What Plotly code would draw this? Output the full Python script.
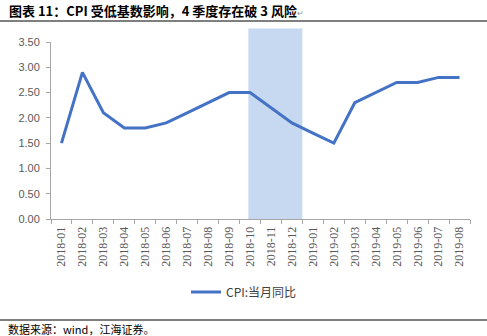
import plotly.graph_objects as go

months = ["2018-01", "2018-02", "2018-03", "2018-04", "2018-05", "2018-06", "2018-07",
          "2018-08", "2018-09", "2018-10", "2018-11", "2018-12", "2019-01", "2019-02",
          "2019-03", "2019-04", "2019-05", "2019-06", "2019-07", "2019-08"]
cpi_yoy = [1.5, 2.9, 2.1, 1.8, 1.8, 1.9, 2.1, 2.3, 2.5, 2.5, 2.2, 1.9, 1.7, 1.5,
           2.3, 2.5, 2.7, 2.7, 2.8, 2.8]
series_name = "CPI:当月同比"
y_ticks = [0.0, 0.5, 1.0, 1.5, 2.0, 2.5, 3.0, 3.5]
shade_start, shade_end = "2018-10", "2018-12"

W, H = 487, 336
L, R, T, B = 51, 17, 42, 117
pw, ph = W - L - R, H - T - B

def px_x(x):
    return (x - L) / pw

def px_y(y):
    return (H - B - y) / ph

fig = go.Figure()
fig.add_trace(go.Scatter(x=months, y=cpi_yoy, mode="lines", name=series_name,
                         line=dict(color="#4472C4", width=3)))

i0 = months.index(shade_start)
i1 = months.index(shade_end)
fig.add_shape(type="rect", xref="x", yref="paper", x0=i0 - 0.08, x1=i1 + 0.5,
              y0=0, y1=px_y(28.5), fillcolor="#C6D9F1", line=dict(width=0), layer="below")

# header / footer rules
for yy in (21, 320):
    fig.add_shape(type="line", xref="paper", yref="paper", x0=px_x(0), x1=px_x(487),
                  y0=px_y(yy), y1=px_y(yy), line=dict(color="#000000", width=1.2))

fig.add_annotation(xref="paper", yref="paper", x=px_x(7), y=px_y(10.5), xanchor="left",
                   yanchor="middle", showarrow=False,
                   text="<b>图表 11：CPI 受低基数影响，4 季度存在破 3 风险</b><span style='font-size:8px;color:#999'>↵</span>",
                   font=dict(family="Noto Sans CJK SC", size=13, color="#000000"))
fig.add_annotation(xref="paper", yref="paper", x=px_x(6), y=px_y(329), xanchor="left",
                   yanchor="middle", showarrow=False,
                   text="数据来源：wind，江海证券。",
                   font=dict(family="Noto Sans CJK SC", size=11, color="#000000"))

fig.update_layout(
    width=W, height=H,
    margin=dict(l=L, r=R, t=T, b=B),
    paper_bgcolor="white", plot_bgcolor="white",
    showlegend=True,
    legend=dict(orientation="h", x=px_x(244), xanchor="center", y=px_y(292), yanchor="middle",
                font=dict(family="Noto Sans CJK SC", size=12, color="#404040"),
                bgcolor="rgba(0,0,0,0)"),
    font=dict(family="Liberation Sans", size=11, color="#595959"),
)
fig.update_xaxes(type="category", range=[-0.5, len(months) - 0.5], showgrid=False,
                 showline=True, linecolor="#A6A6A6", linewidth=1,
                 ticks="outside", tickson="boundaries", ticklen=4, tickcolor="#A6A6A6",
                 tickangle=-90, ticklabelstandoff=2,
                 tickfont=dict(family="Liberation Serif", size=12, color="#595959"))
fig.update_yaxes(range=[0, 3.5], tickvals=y_ticks, tickformat=".2f", showgrid=False,
                 zeroline=False, showline=True, linecolor="#A6A6A6", linewidth=1,
                 ticks="outside", ticklen=4, tickcolor="#A6A6A6", ticklabelstandoff=4,
                 tickfont=dict(size=11, color="#595959"))

fig.write_html("out.html")
